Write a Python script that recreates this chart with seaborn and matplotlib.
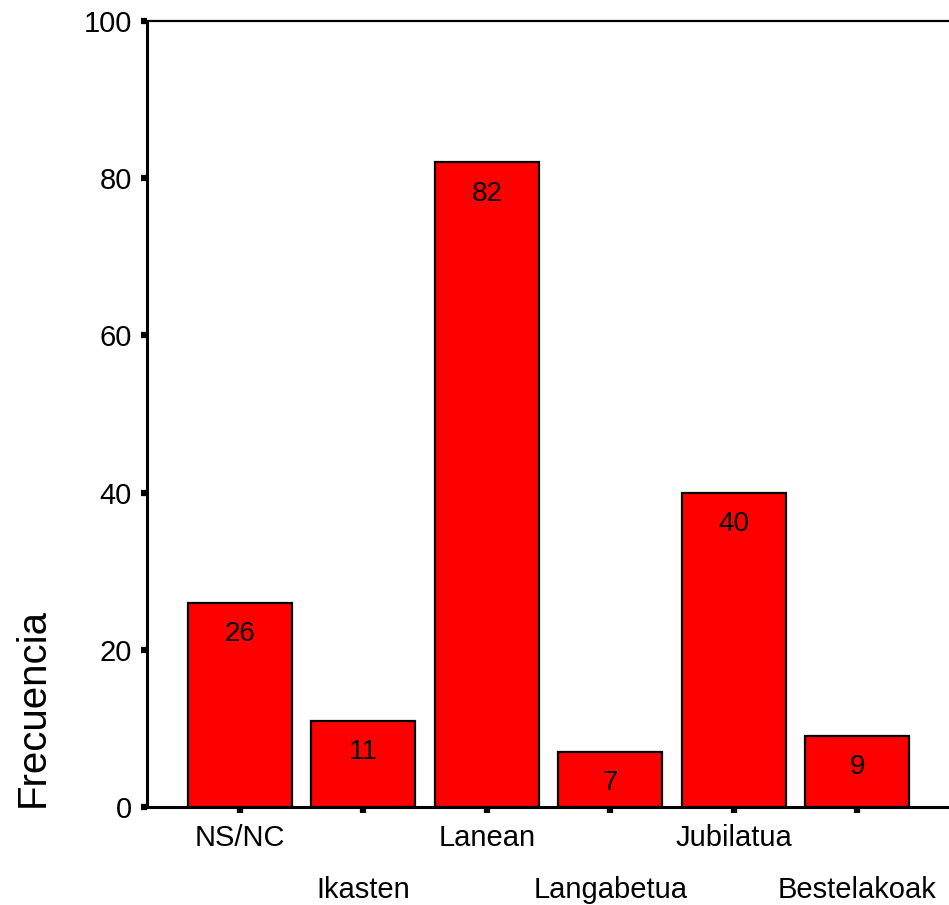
import matplotlib
matplotlib.use("Agg")
import matplotlib.pyplot as plt
import seaborn as sns
import pandas as pd

categories = ["NS/NC", "Ikasten", "Lanean", "Langabetua", "Jubilatua", "Bestelakoak"]
frecuencia = [26, 11, 82, 7, 40, 9]

sns.set_style("white")
plt.rcParams["font.family"] = ["Liberation Sans", "DejaVu Sans"]
plt.rcParams["text.color"] = "black"
plt.rcParams["axes.labelcolor"] = "black"
plt.rcParams["xtick.color"] = "black"
plt.rcParams["ytick.color"] = "black"

df = pd.DataFrame({"cat": categories, "n": frecuencia})

fig = plt.figure(figsize=(9.49, 9.05), dpi=100)
ax = fig.add_axes([147 / 949, 1 - 807 / 905, 803 / 949, 786 / 905])

sns.barplot(data=df, x="cat", y="n", color="#ff0000", saturation=1,
            edgecolor="black", linewidth=1.6, width=0.84, ax=ax)

# value labels just inside the top of each bar
for p, v in zip(ax.patches, frecuencia):
    ax.annotate(str(v), (p.get_x() + p.get_width() / 2, p.get_height()),
                xytext=(0, -13), textcoords="offset points",
                ha="center", va="top", fontsize=20, color="black")

ax.set_xlim(-0.75, 5.75)
ax.set_ylim(0, 100)
ax.set_yticks([0, 20, 40, 60, 80, 100])
ax.set_xlabel("")
ax.set_ylabel("Frecuencia", fontsize=29, loc="bottom", labelpad=23)

for side in ["left", "bottom", "top"]:
    ax.spines[side].set_visible(True)
    ax.spines[side].set_color("black")
ax.spines["left"].set_linewidth(2.2)
ax.spines["bottom"].set_linewidth(2.2)
ax.spines["top"].set_linewidth(1.6)
ax.spines["right"].set_visible(False)

ax.tick_params(axis="y", direction="out", length=4.5, width=4.5, color="black",
               labelsize=21, labelcolor="black", pad=6.5, left=True)
ax.tick_params(axis="x", direction="out", length=4, width=4.5, color="black",
               labelsize=21, labelcolor="black", pad=8, bottom=True)
# staggered category labels
for i, t in enumerate(ax.xaxis.get_major_ticks()):
    if i % 2 == 1:
        t.set_pad(46)

fig.savefig("out.png", dpi=100)
